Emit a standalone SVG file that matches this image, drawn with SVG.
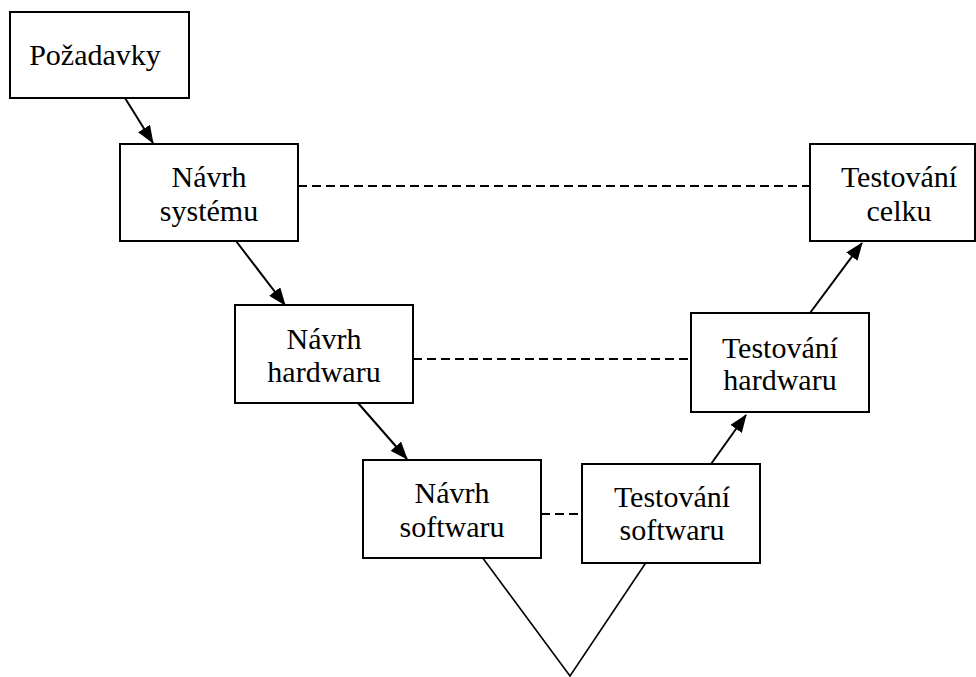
<svg xmlns="http://www.w3.org/2000/svg" width="976" height="677" viewBox="0 0 976 677">
<style>
.box{fill:#fff;stroke:#000;stroke-width:2}
.lbl{font-family:"Liberation Serif","Times New Roman",serif;font-size:30px;fill:#000;text-anchor:middle}
.arr{stroke:#000;stroke-width:2;fill:none;marker-end:url(#ah)}
.dash{stroke:#000;stroke-width:2;fill:none;stroke-dasharray:9 5}
.ln{stroke:#000;stroke-width:1.6;fill:none}
</style>
<defs>
<marker id="ah" markerUnits="userSpaceOnUse" markerWidth="18" markerHeight="14" refX="17" refY="7" orient="auto">
<path d="M0,0 L18,7 L0,14 z" fill="#000"/>
</marker>
</defs>
<rect width="976" height="677" fill="#fff"/>
<g id="connectors">
<line class="arr" x1="125" y1="98" x2="153" y2="143"/>
<line class="arr" x1="236" y1="241" x2="285" y2="305"/>
<line class="arr" x1="358" y1="403" x2="407" y2="459"/>
<line class="arr" x1="711" y1="464" x2="746" y2="415"/>
<line class="arr" x1="810" y1="313" x2="862" y2="243"/>
<line class="dash" x1="298" y1="186" x2="810" y2="186"/>
<line class="dash" x1="413" y1="359" x2="691" y2="359"/>
<line class="dash" x1="541" y1="514" x2="582" y2="514"/>
<polyline class="ln" points="482,557 570,676 647,561"/>
</g>
<g id="pozadavky">
<rect class="box" x="10" y="12" width="179" height="86"/>
<text class="lbl" x="95" y="65">Požadavky</text>
</g>
<g id="navrh-systemu">
<rect class="box" x="120" y="144" width="178" height="97"/>
<text class="lbl" x="209" y="187">Návrh</text>
<text class="lbl" x="209" y="221">systému</text>
</g>
<g id="navrh-hardwaru">
<rect class="box" x="235" y="305" width="178" height="98"/>
<text class="lbl" x="324" y="349">Návrh</text>
<text class="lbl" x="324" y="382">hardwaru</text>
</g>
<g id="navrh-softwaru">
<rect class="box" x="363" y="460" width="178" height="98"/>
<text class="lbl" x="452" y="503">Návrh</text>
<text class="lbl" x="452" y="537">softwaru</text>
</g>
<g id="testovani-softwaru">
<rect class="box" x="582" y="464" width="178" height="99"/>
<text class="lbl" x="672" y="507">Testování</text>
<text class="lbl" x="672" y="540">softwaru</text>
</g>
<g id="testovani-hardwaru">
<rect class="box" x="691" y="313" width="178" height="99"/>
<text class="lbl" x="780" y="358">Testování</text>
<text class="lbl" x="780" y="390">hardwaru</text>
</g>
<g id="testovani-celku">
<rect class="box" x="810" y="144" width="165" height="97"/>
<text class="lbl" x="899" y="187">Testování</text>
<text class="lbl" x="899" y="221">celku</text>
</g>
</svg>
